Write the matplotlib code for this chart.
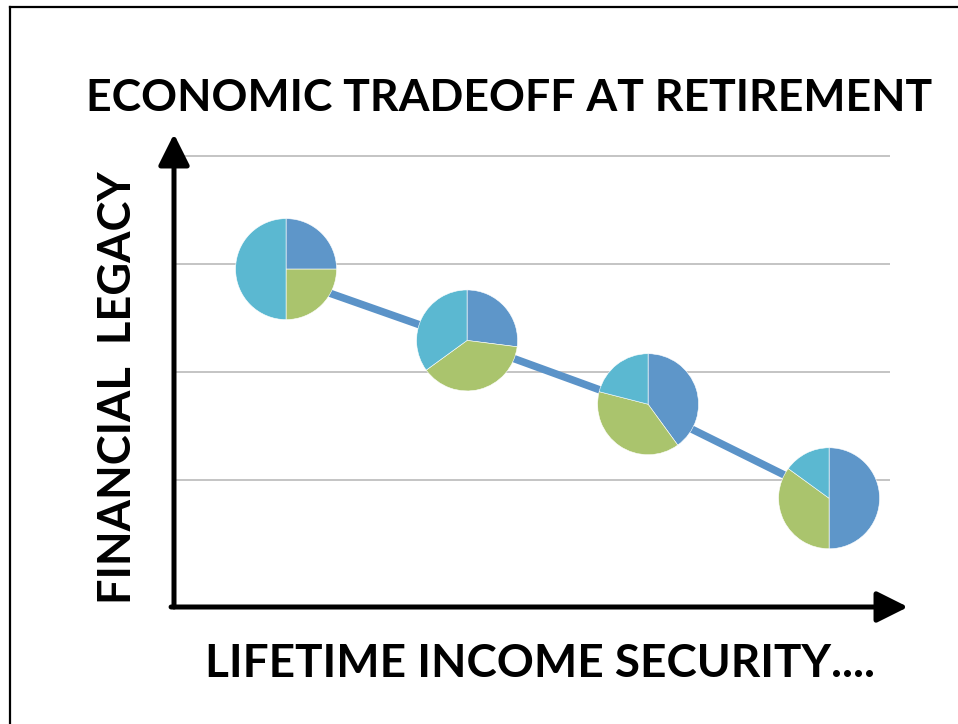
import matplotlib
matplotlib.use("Agg")
import matplotlib.pyplot as plt
from matplotlib.lines import Line2D

# options along the income-security axis
options = [1, 2, 3, 4]
legacy_line = [2.87, 2.28, 1.67, 0.84]
pie_level = [2.95, 2.29, 1.70, 0.83]

# asset mix shown at each option (blue, green, cyan)
mix_blue = [25, 27, 40, 50]
mix_green = [25, 38, 39, 35]
mix_cyan = [50, 35, 21, 15]
grid_levels = [0, 1, 2, 3, 4]

BLUE = "#5E96C9"
GREEN = "#AAC46D"
CYAN = "#5BB8D1"
LINE = "#5B93C8"

W, H = 958, 724
fig = plt.figure(figsize=(W / 100, H / 100), dpi=100)

def fx(px):
    return px / W

def fy(py):
    return 1 - py / H

# plot area: y-axis at x=174, x-axis at y=607, arrow tips at 908 / 134
ax = fig.add_axes([fx(174), fy(607), fx(908) - fx(174), fy(134) - fy(607)])
ax.set_xlim(0.381, 4.436)
ax.set_ylim(-0.176, 4.20)
ax.axis("off")

# gridlines and little tick stubs
ax.hlines(grid_levels[1:], 0.381, 4.337, color="#BFBFBF", lw=1.3, zorder=1)
ax.hlines(grid_levels[:-1], 0.35, 0.381, color="#A0A0A0", lw=1.3, zorder=1)

ax.plot(options, legacy_line, color=LINE, lw=5.4, solid_capstyle="butt", zorder=2)

# axis arrows
arrow = dict(arrowstyle="-|>,head_length=1.9,head_width=0.95", lw=3.6,
             color="black", shrinkA=0, shrinkB=0)
ax.annotate("", xy=(0, 1), xytext=(0, 0), xycoords="axes fraction",
            textcoords="axes fraction", arrowprops=arrow, zorder=3)
ax.annotate("", xy=(1, 0), xytext=(-0.004, 0), xycoords="axes fraction",
            textcoords="axes fraction", arrowprops=arrow, zorder=3)

# a pie at each point
fig.canvas.draw()
d = 101
for i in range(len(options)):
    cx, cy = ax.transData.transform((options[i], pie_level[i]))
    pax = fig.add_axes([(cx - d / 2) / W, (cy - d / 2) / H, d / W, d / H])
    pax.pie([mix_blue[i], mix_green[i], mix_cyan[i]],
            colors=[BLUE, GREEN, CYAN], startangle=90, counterclock=False,
            radius=1, wedgeprops=dict(edgecolor="white", linewidth=0.4))
    pax.set_xlim(-1, 1)
    pax.set_ylim(-1, 1)
    pax.set_aspect("equal")
    pax.axis("off")

font = dict(family="Lato", weight="bold", color="black")
fig.text(fx(509), fy(98), "ECONOMIC TRADEOFF AT RETIREMENT", ha="center",
         va="center", fontsize=32, **font)
fig.text(fx(540), fy(664), "LIFETIME INCOME SECURITY....", ha="center",
         va="center", fontsize=33, **font)
fig.text(fx(118), fy(388), "FINANCIAL  LEGACY", ha="center", va="center",
         rotation=90, fontsize=32.5, **font)

# frame around the slide
fig.add_artist(Line2D([fx(10), fx(10)], [fy(7), 0], color="black", lw=1.6))
fig.add_artist(Line2D([fx(10), 1], [fy(7), fy(7)], color="black", lw=1.6))

fig.savefig("out.png", dpi=100, facecolor="white")
